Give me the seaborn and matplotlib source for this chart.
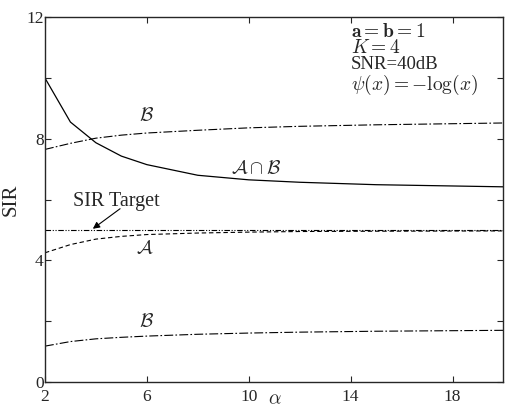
import numpy as np
import pandas as pd
import matplotlib
matplotlib.use("Agg")
import matplotlib.pyplot as plt
import seaborn as sns

# дані
alpha = [2, 3, 4, 5, 6, 8, 10, 12, 15, 20]
sir_ab = [10.0, 8.55, 7.87, 7.43, 7.15, 6.80, 6.65, 6.57, 6.49, 6.42]
sir_b_up = [7.65, 7.85, 8.02, 8.12, 8.19, 8.28, 8.36, 8.41, 8.46, 8.52]
sir_a = [4.25, 4.52, 4.70, 4.79, 4.85, 4.90, 4.93, 4.95, 4.96, 4.97]
sir_b_low = [1.18, 1.33, 1.42, 1.47, 1.51, 1.57, 1.61, 1.64, 1.67, 1.70]
sir_target = 5.0

x_ticks = [2, 6, 10, 14, 18]
y_ticks = [0, 2, 4, 6, 8, 10, 12]
y_labels = ["0", "", "4", "", "8", "", "12"]

df = pd.DataFrame({"alpha": alpha, "ab": sir_ab, "b_up": sir_b_up,
                   "a": sir_a, "b_low": sir_b_low})

sns.set_style("ticks")
plt.rcParams["font.family"] = ["Liberation Serif", "DejaVu Serif"]
plt.rcParams["mathtext.fontset"] = "cm"
plt.rcParams["xtick.direction"] = "in"
plt.rcParams["ytick.direction"] = "in"

fig = plt.figure(figsize=(5.05, 4.09), dpi=100)
ax = fig.add_axes([0.089, 0.066, 0.908, 0.892])

dashdot = (0, (8, 2, 1.5, 2))
sns.lineplot(data=df, x="alpha", y="ab", ax=ax, color="black", lw=0.9)
sns.lineplot(data=df, x="alpha", y="b_up", ax=ax, color="black", lw=0.8,
             linestyle=dashdot)
sns.lineplot(data=df, x="alpha", y="a", ax=ax, color="black", lw=0.8,
             linestyle=(0, (4, 2.5)))
sns.lineplot(data=df, x="alpha", y="b_low", ax=ax, color="black", lw=0.8,
             linestyle=dashdot)
ax.axhline(sir_target, color="black", lw=0.8,
           linestyle=(0, (5, 1.5, 1, 1.5, 1, 1.5)))

ax.set_xlim(2, 20)
ax.set_ylim(0, 12)
ax.set_xticks(x_ticks)
ax.set_yticks(y_ticks)
ax.set_yticklabels(y_labels)
ax.tick_params(top=True, right=True, labelsize=12.5, length=4, width=0.8)
ax.tick_params(axis="x", pad=5)
ax.tick_params(axis="y", pad=1)
for s in ax.spines.values():
    s.set_linewidth(1.0)

ax.set_xlabel("")
ax.set_ylabel("SIR", fontsize=15, labelpad=4)
fig.text(0.545, 0.022, r"$\alpha$", fontsize=14, ha="center", va="center")

# підписи кривих
ax.text(6.0, 8.6, r"$\mathcal{B}$", fontsize=14, ha="center")
ax.text(10.3, 6.85, r"$\mathcal{A}\cap\mathcal{B}$", fontsize=14, ha="center")
ax.text(5.9, 4.2, r"$\mathcal{A}$", fontsize=14, ha="center")
ax.text(6.0, 1.8, r"$\mathcal{B}$", fontsize=14, ha="center")
ax.text(4.8, 5.95, "SIR Target", fontsize=14.5, ha="center", va="center")
ax.annotate("", xy=(3.88, 5.04), xytext=(4.95, 5.7),
            arrowprops=dict(arrowstyle="-|>", color="black", lw=0.8,
                            shrinkA=0, shrinkB=0, mutation_scale=10))

# параметри
ax.text(14.0, 11.35, r"$\mathbf{a=b=1}$", fontsize=14, va="baseline")
ax.text(14.0, 10.81, r"$K=4$", fontsize=14, va="baseline")
ax.text(14.0, 10.28, "SNR=40dB", fontsize=13.5, va="baseline")
ax.text(14.0, 9.6, r"$\psi(x)=-\log(x)$", fontsize=14, va="baseline")

fig.savefig("out.png", dpi=100)
